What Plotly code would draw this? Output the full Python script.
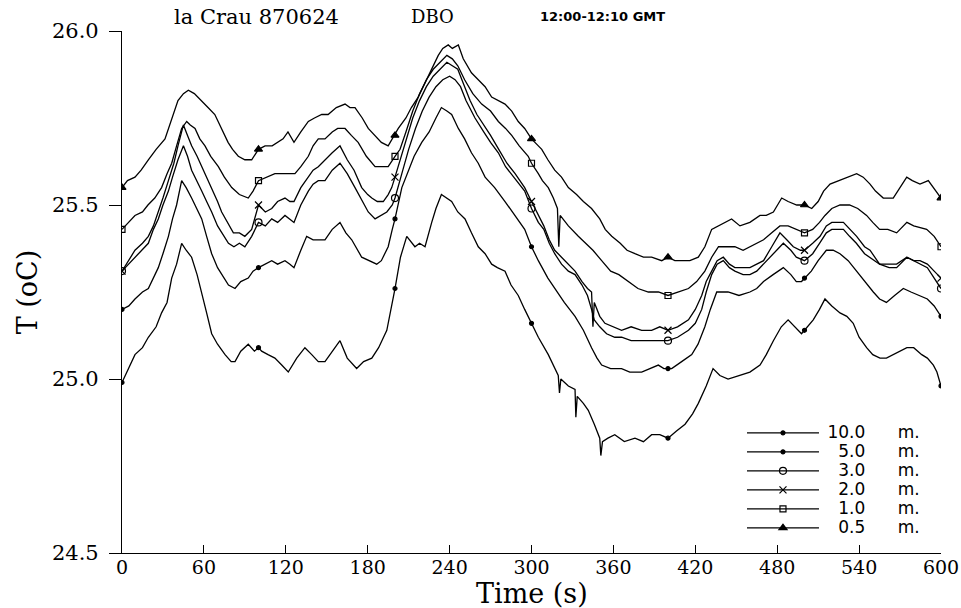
import plotly.graph_objects as go

# ---------------- data ----------------
t_10m = [0, 5, 9.5, 15, 19.3, 25, 29, 33, 36.4, 40, 43.7, 47, 51, 55, 58.4, 62, 65.7, 70, 75.5, 80, 82.8, 87, 92.5, 97,
         100, 102.3, 107, 112, 117, 121.8, 128, 134, 139, 143.8, 148.7, 154, 159.7, 165, 171.9, 177, 183, 188, 194,
         200, 204, 208.6, 214.6, 218, 222, 226.9, 230, 234, 238, 241.5, 246, 251.3, 256, 261, 266, 270.8, 275, 280.6,
         285, 290.3, 295, 300, 305, 312.3, 316, 319.6, 320.5, 321.5, 327, 331.9, 332.5, 333.5, 338, 341.6, 346, 350,
         350.8, 352, 356, 361, 368, 375.8, 382, 388, 394, 400, 406, 412.5, 418, 422.2, 428, 433, 438, 444, 452, 460,
         467.4, 472, 477.2, 483, 488, 493, 497.8, 500, 506.4, 511, 515, 520, 526, 531, 535.7, 540, 545.5, 550, 555.3,
         560, 565, 570, 575, 580, 585.9, 590, 594.4, 597, 600]
T_10m = [24.99, 25.03, 25.07, 25.09, 25.12, 25.15, 25.19, 25.22, 25.29, 25.33, 25.39, 25.37, 25.35, 25.30, 25.25, 25.19,
         25.13, 25.10, 25.07, 25.05, 25.05, 25.08, 25.10, 25.08, 25.09, 25.08, 25.07, 25.06, 25.04, 25.02, 25.06, 25.09,
         25.07, 25.05, 25.05, 25.08, 25.11, 25.06, 25.03, 25.05, 25.06, 25.09, 25.14, 25.26, 25.35, 25.41, 25.38, 25.39,
         25.38, 25.45, 25.49, 25.53, 25.52, 25.51, 25.48, 25.46, 25.42, 25.38, 25.36, 25.33, 25.32, 25.31, 25.27, 25.24,
         25.20, 25.16, 25.12, 25.07, 25.04, 25.01, 24.96, 25.00, 24.98, 24.97, 24.89, 24.95, 24.93, 24.91, 24.87, 24.83,
         24.78, 24.82, 24.83, 24.84, 24.82, 24.83, 24.82, 24.84, 24.84, 24.83, 24.85, 24.87, 24.90, 24.93, 24.98, 25.03,
         25.01, 25.00, 25.01, 25.02, 25.04, 25.07, 25.11, 25.15, 25.17, 25.15, 25.13, 25.14, 25.17, 25.20, 25.23, 25.21,
         25.19, 25.18, 25.16, 25.12, 25.09, 25.07, 25.06, 25.06, 25.07, 25.08, 25.09, 25.09, 25.07, 25.06, 25.04, 25.02,
         24.98]

t_5m = [0, 5, 9.5, 15, 19.3, 23, 26.6, 30, 34, 37, 40, 43.7, 47, 51, 55, 58.4, 62, 65.7, 70, 73, 78, 82.8, 87, 92.5, 96,
        100, 105, 109.7, 114, 119.4, 123, 126, 131, 135.3, 140, 143.8, 148.7, 154, 159.7, 164, 168.3, 175.6, 181,
        186.6, 190, 195, 198, 200, 205, 209.7, 214, 219.6, 225, 230, 234, 238, 241.5, 246.4, 251, 256, 261, 266, 273,
        280.6, 288, 295, 300, 305, 312, 317, 324, 331.9, 338, 344, 348, 351.4, 358, 366, 372, 380.7, 387, 392.9, 397,
        400, 402.7, 410, 417.4, 422, 427, 431, 435.7, 440, 444, 452, 460, 465, 470, 477, 484.5, 490, 494, 497.8, 500,
        505, 510, 516, 521, 526, 532, 538, 544, 550.4, 555, 560, 566, 572.4, 578, 584.6, 590, 595, 600]
T_5m = [25.20, 25.21, 25.23, 25.25, 25.26, 25.29, 25.32, 25.36, 25.41, 25.46, 25.50, 25.57, 25.55, 25.52, 25.49, 25.46,
        25.41, 25.36, 25.32, 25.30, 25.27, 25.26, 25.28, 25.29, 25.31, 25.32, 25.33, 25.34, 25.33, 25.34, 25.33, 25.32,
        25.37, 25.41, 25.40, 25.40, 25.40, 25.43, 25.45, 25.42, 25.40, 25.35, 25.34, 25.33, 25.34, 25.38, 25.43, 25.46,
        25.55, 25.60, 25.64, 25.68, 25.71, 25.75, 25.78, 25.77, 25.76, 25.72, 25.69, 25.65, 25.62, 25.58, 25.55, 25.51,
        25.47, 25.43, 25.38, 25.34, 25.29, 25.26, 25.22, 25.18, 25.14, 25.09, 25.06, 25.04, 25.03, 25.03, 25.02, 25.02,
        25.03, 25.04, 25.03, 25.03, 25.03, 25.05, 25.07, 25.10, 25.15, 25.20, 25.25, 25.25, 25.25, 25.24, 25.25, 25.26,
        25.28, 25.30, 25.32, 25.30, 25.28, 25.28, 25.29, 25.31, 25.34, 25.37, 25.37, 25.36, 25.34, 25.31, 25.28, 25.25,
        25.23, 25.22, 25.24, 25.26, 25.25, 25.24, 25.23, 25.21, 25.18]

t_3m = [0, 5, 9.5, 15, 19.3, 23, 26.6, 30, 34, 37, 41, 45, 48, 51, 55, 58.4, 62, 65.7, 70, 73, 78, 82, 86, 90, 95, 100,
        105, 109.7, 114, 119.4, 123, 126, 131, 136.5, 140, 143.8, 148.7, 154, 159.7, 165, 170.7, 175, 180.4, 185.4,
        190, 194, 198, 200, 205, 210, 215, 220, 225, 230, 235, 240, 244, 248, 252, 258.6, 265, 270, 275.7, 281, 287,
        295, 300, 305, 309, 313, 317, 322, 327, 331.9, 337, 341, 344, 346, 350, 355, 361, 366, 373, 380.7, 388, 394,
        400, 407, 415, 420, 424.7, 428, 432, 436, 440.5, 445, 449, 455, 460, 465, 470, 477, 484.5, 490, 494, 500, 506,
        511, 516, 520, 528.5, 533, 538, 544, 548, 555, 562, 567.5, 575, 580, 584.6, 590, 595, 600]
T_3m = [25.31, 25.33, 25.35, 25.37, 25.39, 25.43, 25.46, 25.50, 25.54, 25.58, 25.63, 25.67, 25.64, 25.60, 25.57, 25.54,
        25.51, 25.48, 25.44, 25.42, 25.39, 25.38, 25.39, 25.38, 25.41, 25.45, 25.44, 25.46, 25.45, 25.47, 25.46, 25.45,
        25.50, 25.54, 25.56, 25.57, 25.57, 25.60, 25.62, 25.59, 25.55, 25.52, 25.48, 25.46, 25.47, 25.48, 25.50, 25.52,
        25.59, 25.66, 25.72, 25.77, 25.81, 25.84, 25.86, 25.87, 25.86, 25.84, 25.80, 25.75, 25.71, 25.68, 25.65, 25.61,
        25.58, 25.54, 25.49, 25.45, 25.43, 25.39, 25.36, 25.33, 25.31, 25.30, 25.27, 25.24, 25.20, 25.17, 25.15, 25.13,
        25.12, 25.12, 25.11, 25.11, 25.11, 25.11, 25.11, 25.12, 25.14, 25.16, 25.20, 25.25, 25.30, 25.33, 25.34, 25.32,
        25.31, 25.30, 25.30, 25.31, 25.33, 25.36, 25.39, 25.37, 25.35, 25.34, 25.36, 25.39, 25.42, 25.43, 25.43, 25.41,
        25.39, 25.36, 25.35, 25.33, 25.32, 25.32, 25.35, 25.34, 25.33, 25.32, 25.29, 25.26]

t_2m = [0, 5, 9.5, 15, 19.3, 23, 26.6, 30, 34, 38, 41, 45, 48, 51, 55, 58.4, 62, 65.7, 70, 73, 77, 81.6, 86, 90, 95, 100,
        105, 109.7, 114, 119.4, 123, 126, 131, 136.5, 140, 143.8, 148.7, 154, 159.7, 165, 170, 175.6, 180, 183, 187,
        191.4, 195, 197.6, 200, 203, 208, 213, 218, 223, 228, 233, 238, 242, 246, 250, 255, 260, 265, 270, 276, 282,
        288, 295, 300, 305, 309, 313, 317, 322, 327, 331.9, 337, 341, 344, 345, 346, 350, 353.8, 360, 366, 373, 380.7,
        388, 394, 400, 407, 415, 420, 424.7, 428, 432, 436, 440.5, 445, 449, 455, 460, 465, 470, 476, 482, 487, 491.8,
        497, 500, 506, 511.4, 516, 520, 528.5, 533, 538.2, 544, 548, 555, 562, 567.5, 575, 580, 584.6, 590, 595, 600]
T_2m = [25.31, 25.34, 25.37, 25.39, 25.41, 25.44, 25.48, 25.52, 25.57, 25.62, 25.67, 25.73, 25.70, 25.67, 25.64, 25.61,
        25.58, 25.55, 25.51, 25.48, 25.45, 25.42, 25.42, 25.41, 25.43, 25.50, 25.48, 25.49, 25.51, 25.52, 25.51, 25.51,
        25.55, 25.58, 25.60, 25.61, 25.63, 25.65, 25.67, 25.63, 25.60, 25.55, 25.53, 25.52, 25.51, 25.51, 25.53, 25.55,
        25.58, 25.62, 25.69, 25.75, 25.80, 25.84, 25.87, 25.89, 25.91, 25.90, 25.89, 25.85, 25.80, 25.76, 25.73, 25.70,
        25.66, 25.62, 25.59, 25.55, 25.51, 25.47, 25.44, 25.40, 25.37, 25.35, 25.33, 25.31, 25.28, 25.26, 25.25, 25.15,
        25.22, 25.18, 25.16, 25.15, 25.14, 25.15, 25.14, 25.14, 25.15, 25.14, 25.15, 25.17, 25.20, 25.24, 25.28, 25.31,
        25.34, 25.35, 25.33, 25.32, 25.32, 25.32, 25.33, 25.34, 25.38, 25.42, 25.40, 25.38, 25.37, 25.37, 25.39, 25.41,
        25.44, 25.45, 25.45, 25.43, 25.41, 25.38, 25.37, 25.33, 25.33, 25.33, 25.35, 25.34, 25.34, 25.33, 25.31, 25.29]

t_1m = [0, 5, 9.5, 15, 19, 24, 29, 33, 36.4, 40, 43.7, 47.4, 50, 53.5, 57, 60.8, 65, 70.6, 75, 80.4, 86, 92.5, 96, 100,
        106, 112, 119, 126.7, 131, 136.5, 140, 143.8, 148.7, 154, 158, 163.4, 168, 173, 179, 185.4, 190, 195, 200,
        203.7, 208, 213, 218, 223, 228, 233, 238, 242, 246, 251, 257, 263.5, 270, 275.7, 281, 285.5, 291, 297.6, 300,
        305, 308, 312.3, 316, 319, 320, 321, 327, 334.3, 340, 345, 351.4, 358, 364, 371, 378, 385.6, 393, 400, 408,
        415, 421, 427, 432, 437, 443, 449, 455, 460, 465, 470, 476, 482, 488, 494, 500, 506, 511, 515, 520, 526, 533,
        539, 545.5, 550, 555, 561, 567.5, 575, 580, 589.5, 595, 600]
T_1m = [25.43, 25.45, 25.47, 25.48, 25.50, 25.52, 25.55, 25.59, 25.62, 25.67, 25.72, 25.74, 25.73, 25.72, 25.69, 25.67,
        25.64, 25.61, 25.58, 25.55, 25.53, 25.52, 25.54, 25.57, 25.58, 25.59, 25.59, 25.59, 25.61, 25.64, 25.67, 25.69,
        25.69, 25.71, 25.72, 25.72, 25.70, 25.68, 25.64, 25.61, 25.61, 25.61, 25.64, 25.66, 25.71, 25.77, 25.82, 25.86,
        25.89, 25.91, 25.93, 25.92, 25.90, 25.86, 25.82, 25.79, 25.77, 25.74, 25.72, 25.70, 25.67, 25.64, 25.62, 25.59,
        25.57, 25.55, 25.52, 25.49, 25.38, 25.47, 25.44, 25.41, 25.39, 25.37, 25.34, 25.31, 25.30, 25.28, 25.26, 25.25,
        25.25, 25.24, 25.25, 25.26, 25.28, 25.31, 25.35, 25.38, 25.38, 25.38, 25.37, 25.38, 25.39, 25.40, 25.42, 25.44,
        25.44, 25.43, 25.42, 25.43, 25.45, 25.47, 25.49, 25.50, 25.50, 25.49, 25.47, 25.45, 25.43, 25.43, 25.42, 25.45,
        25.44, 25.43, 25.41, 25.38]

t_05m = [0, 4, 9.5, 14, 19.3, 25, 31.5, 36, 41, 45, 48.6, 53, 58.4, 63, 68, 73, 77.7, 81, 85.2, 90, 95, 100, 104.8, 110,
         114.3, 118, 121.6, 126, 131, 136.5, 141, 146.3, 151, 157, 163.4, 167, 170.7, 176, 180.4, 185, 190, 195, 198,
         200, 202.4, 208, 212, 217, 222, 226, 231.7, 235, 239, 242, 246.4, 250, 256, 261, 266, 270.8, 276, 280.6,
         285.5, 290.3, 295, 300, 305, 307.5, 312, 317, 322, 327, 333, 338, 344, 350, 354, 358.8, 365, 370, 375.8, 382,
         388, 395.4, 400, 405, 410, 416, 422.2, 427, 432, 437, 441, 446.6, 452.7, 460, 467.4, 472, 477.2, 483.3, 488,
         494.3, 500, 505.3, 510, 514, 518.7, 525, 531, 538.2, 543, 548, 552, 557.7, 565, 570, 574.9, 579, 584.6, 590.7,
         596, 600]
T_05m = [25.55, 25.57, 25.58, 25.60, 25.63, 25.66, 25.69, 25.74, 25.80, 25.82, 25.83, 25.82, 25.80, 25.78, 25.76, 25.72,
         25.68, 25.66, 25.64, 25.63, 25.63, 25.66, 25.67, 25.67, 25.68, 25.69, 25.71, 25.68, 25.71, 25.74, 25.75, 25.76,
         25.76, 25.78, 25.79, 25.78, 25.78, 25.75, 25.72, 25.70, 25.68, 25.67, 25.69, 25.70, 25.72, 25.75, 25.78, 25.81,
         25.85, 25.88, 25.93, 25.95, 25.96, 25.95, 25.96, 25.92, 25.88, 25.86, 25.84, 25.81, 25.80, 25.79, 25.77, 25.74,
         25.72, 25.69, 25.67, 25.66, 25.63, 25.60, 25.58, 25.55, 25.53, 25.51, 25.49, 25.46, 25.43, 25.41, 25.39, 25.37,
         25.36, 25.35, 25.35, 25.34, 25.35, 25.34, 25.34, 25.34, 25.35, 25.38, 25.43, 25.44, 25.45, 25.46, 25.44, 25.45,
         25.47, 25.47, 25.48, 25.52, 25.51, 25.50, 25.50, 25.49, 25.51, 25.54, 25.56, 25.57, 25.58, 25.59, 25.58, 25.56,
         25.54, 25.52, 25.52, 25.55, 25.58, 25.57, 25.56, 25.57, 25.54, 25.52]

heights = ["10.0", "5.0", "3.0", "2.0", "1.0", "0.5"]
x_ticks = [0, 60, 120, 180, 240, 300, 360, 420, 480, 540, 600]
y_ticks = [24.5, 25.0, 25.5, 26.0]
marker_every = 100  # seconds between symbols on each curve

# ---------------- styles ----------------
symbols = ["circle", "circle", "circle-open", "x-thin-open", "square-open", "triangle-up"]
sizes = [4, 4, 7, 7, 6, 7]

fig = go.Figure()
data = [(t_10m, T_10m), (t_5m, T_5m), (t_3m, T_3m), (t_2m, T_2m), (t_1m, T_1m), (t_05m, T_05m)]
for (tt, yy), h, sym, sz in zip(data, heights, symbols, sizes):
    label = "\u2009" + h.rjust(4, "\u2007") + "\u2007\u2007\u2007m."
    name = '<span style="font-size:17px">' + label + '</span>'
    cols = ["black" if (t % marker_every == 0) else "rgba(0,0,0,0)" for t in tt]
    fig.add_trace(go.Scatter(
        x=tt, y=yy, name=name, mode="lines+markers",
        line=dict(color="black", width=1.3),
        marker=dict(symbol=sym, size=sz, color=cols,
                    line=dict(color=cols, width=1.2)),
    ))

serif = "DejaVu Serif"
fig.update_layout(
    width=961, height=608,
    margin=dict(l=122, r=20, t=31, b=55),
    paper_bgcolor="white", plot_bgcolor="white",
    showlegend=True,
    legend=dict(x=0.757, y=0.258, xanchor="left", yanchor="top",
                font=dict(family="DejaVu Sans", size=12, color="black"),
                bgcolor="rgba(0,0,0,0)", itemwidth=72, traceorder="normal"),
    xaxis=dict(range=[0, 600], tickvals=x_ticks, ticktext=[str(v) for v in x_ticks], automargin=False,
               showgrid=False, zeroline=False, showline=True, linecolor="black", linewidth=1.2,
               ticks="inside", ticklen=8, tickcolor="black", tickwidth=1,
               ticklabelstandoff=-3,
               tickfont=dict(family=serif, size=19, color="black")),
    yaxis=dict(range=[24.5, 26.0], tickvals=y_ticks, ticktext=["%.1f" % v for v in y_ticks], automargin=False,
               showgrid=False, zeroline=False, showline=True, linecolor="black", linewidth=1.2,
               ticks="outside", ticklen=12, tickcolor="black", tickwidth=1,
               ticklabelstandoff=6,
               tickfont=dict(family=serif, size=21, color="black"),
               title=dict(text="T (oC)", font=dict(family=serif, size=27, color="black"), standoff=6)),
    annotations=[
        dict(text="Time (s)", xref="paper", yref="paper", x=0.5, y=-0.0775,
             xanchor="center", yanchor="middle", showarrow=False,
             font=dict(family=serif, size=27, color="black")),
        dict(text="la Crau 870624", xref="paper", yref="paper", x=0.061, y=1.027,
             xanchor="left", yanchor="middle", showarrow=False,
             font=dict(family=serif, size=21, color="black")),
        dict(text="DBO", xref="paper", yref="paper", x=0.350, y=1.027,
             xanchor="left", yanchor="middle", showarrow=False,
             font=dict(family=serif, size=18, color="black")),
        dict(text="<b>12:00-12:10 GMT</b>", xref="paper", yref="paper", x=0.508, y=1.027,
             xanchor="left", yanchor="middle", showarrow=False,
             font=dict(family="DejaVu Sans", size=13, color="black")),
    ],
)

fig.write_html("out.html")
